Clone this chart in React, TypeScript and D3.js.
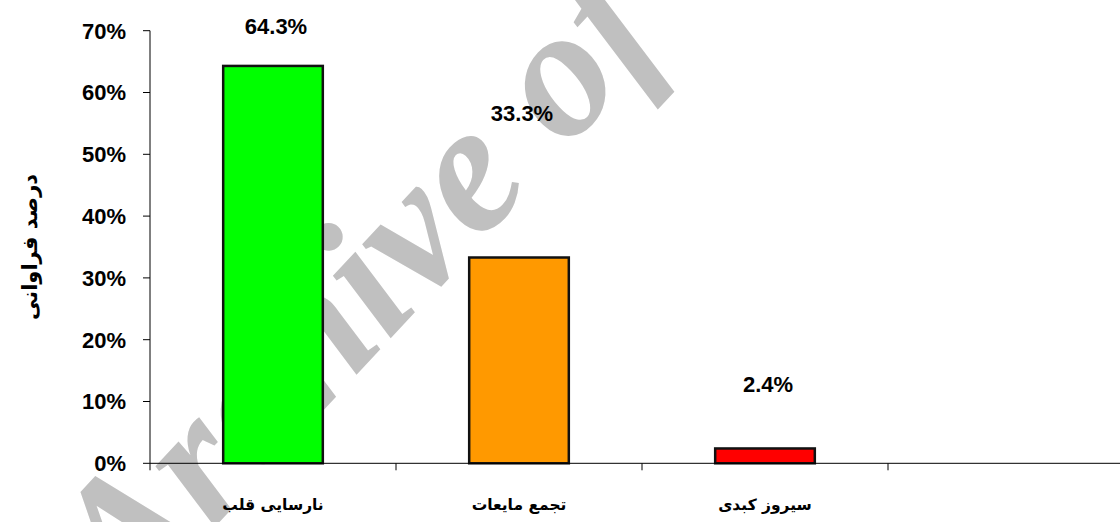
import React, { useEffect, useRef } from "react";
import * as d3 from "d3";

const categories = ["نارسایی قلب", "تجمع مایعات", "سیروز کبدی", ""];
const values = [64.3, 33.3, 2.4];
const barColors = ["#00ff00", "#ff9900", "#ff0000"];
// where the value labels sit, read in percent units off the picture
const labelLevels = [69.5, 55.4, 11.5];
const yTicks = [0, 10, 20, 30, 40, 50, 60, 70];
const yTitle = "درصد فراوانی";

const W = 1120,
  H = 522;

export default function App() {
  const ref = useRef<SVGSVGElement>(null);

  useEffect(() => {
    const svg = d3.select(ref.current);
    svg.selectAll("*").remove();

    const left = 150,
      bandW = 246,
      y0 = 463.3,
      top = 30.7;

    const x = d3
      .scaleBand<string>()
      .domain(categories.map((c, i) => String(i)))
      .range([left, left + bandW * categories.length])
      .paddingInner(0)
      .paddingOuter(0);
    const y = d3.scaleLinear().domain([0, 70]).range([y0, top]);
    const barW = x.bandwidth() * 0.405;

    // watermark, sits behind the chart
    svg
      .append("text")
      .attr("transform", "translate(128,620) rotate(-47)")
      .attr("fill", "#c0c0c0")
      .style("font-family", "'Liberation Serif', 'DejaVu Serif', serif")
      .style("font-weight", "bold")
      .style("font-style", "italic")
      .style("font-size", "185px")
      .text("Archive of SID");

    // bars
    svg
      .append("g")
      .selectAll("rect")
      .data(values)
      .enter()
      .append("rect")
      .attr("x", (d, i) => x(String(i))! + (x.bandwidth() - barW) / 2)
      .attr("y", (d) => y(d))
      .attr("width", barW)
      .attr("height", (d) => y(0) - y(d))
      .attr("fill", (d, i) => barColors[i])
      .attr("stroke", "#111")
      .attr("stroke-width", 2.5);

    // y axis
    const yAxis = svg.append("g").attr("transform", `translate(${left},0)`);
    yAxis
      .append("line")
      .attr("y1", y(70))
      .attr("y2", y(0))
      .attr("stroke", "#000");
    yAxis
      .selectAll("g.tick")
      .data(yTicks)
      .enter()
      .append("g")
      .attr("transform", (d) => `translate(0,${y(d)})`)
      .each(function (d) {
        const g = d3.select(this);
        g.append("line").attr("x1", -7).attr("x2", 0).attr("stroke", "#000");
        g.append("text")
          .attr("x", -24)
          .attr("dy", "0.36em")
          .attr("text-anchor", "end")
          .style("font-family", "'Liberation Sans', Arial, sans-serif")
          .style("font-weight", "bold")
          .style("font-size", "22px")
          .text(d + "%");
      });

    // x axis
    const xAxis = svg.append("g").attr("transform", `translate(0,${y0})`);
    xAxis
      .append("line")
      .attr("x1", left)
      .attr("x2", W)
      .attr("stroke", "#000");
    xAxis
      .selectAll("line.tick")
      .data(categories)
      .enter()
      .append("line")
      .attr("x1", (d, i) => x(String(i))!)
      .attr("x2", (d, i) => x(String(i))!)
      .attr("y1", 0)
      .attr("y2", 7)
      .attr("stroke", "#000");
    xAxis
      .selectAll("text")
      .data(categories)
      .enter()
      .append("text")
      .attr("x", (d, i) => x(String(i))! + x.bandwidth() / 2)
      .attr("y", 47)
      .attr("text-anchor", "middle")
      .style("font-family", "'DejaVu Sans', 'Noto Sans', sans-serif")
      .style("font-weight", "bold")
      .style("font-size", "15.5px")
      .text((d) => d);

    // value labels
    svg
      .append("g")
      .selectAll("text")
      .data(values)
      .enter()
      .append("text")
      .attr("x", (d, i) => x(String(i))! + x.bandwidth() / 2 + 3)
      .attr("y", (d, i) => y(labelLevels[i]))
      .attr("text-anchor", "middle")
      .style("font-family", "'Liberation Sans', Arial, sans-serif")
      .style("font-weight", "bold")
      .style("font-size", "22px")
      .text((d) => d.toFixed(1) + "%");

    // y title
    svg
      .append("text")
      .attr("transform", "translate(37,247) rotate(-90)")
      .attr("text-anchor", "middle")
      .style("font-family", "'DejaVu Sans', 'Noto Sans', sans-serif")
      .style("font-weight", "bold")
      .style("font-size", "21px")
      .text(yTitle);
  }, []);

  return (
    <svg
      ref={ref}
      width={W}
      height={H}
      style={{ position: "absolute", left: 0, top: 0, background: "#fff" }}
    />
  );
}
